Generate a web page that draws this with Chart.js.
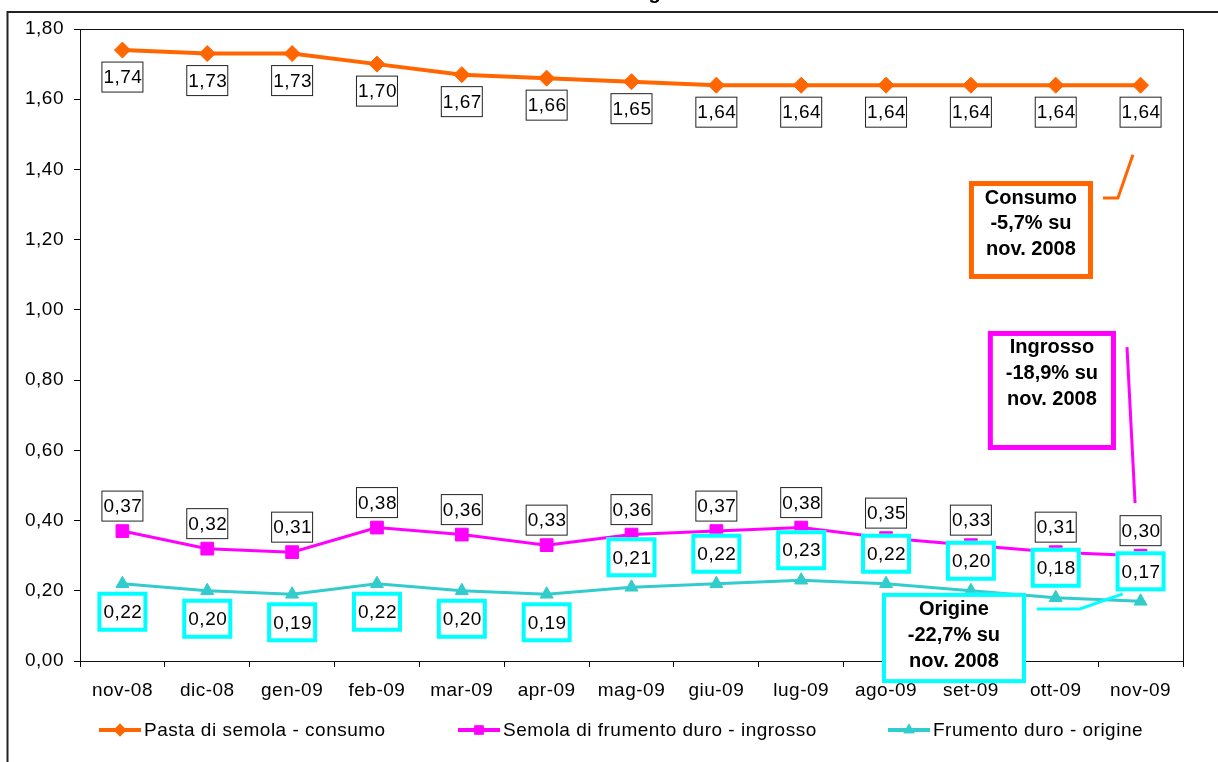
<!DOCTYPE html>
<html>
<head>
<meta charset="utf-8">
<script src="https://cdn.jsdelivr.net/npm/chart.js@4.4.1/dist/chart.umd.min.js"></script>
<style>
  html, body { margin: 0; padding: 0; background: #ffffff; }
  #wrap { width: 1218px; height: 762px; position: relative; }
</style>
</head>
<body>
<div id="wrap"><canvas id="chart"></canvas></div>
<script>
// Monthly prices, €/kg
const months = ['nov-08', 'dic-08', 'gen-09', 'feb-09', 'mar-09', 'apr-09', 'mag-09',
                'giu-09', 'lug-09', 'ago-09', 'set-09', 'ott-09', 'nov-09'];
const pastaConsumo = [1.74, 1.73, 1.73, 1.70, 1.67, 1.66, 1.65, 1.64, 1.64, 1.64, 1.64, 1.64, 1.64];
const semolaIngrosso = [0.37, 0.32, 0.31, 0.38, 0.36, 0.33, 0.36, 0.37, 0.38, 0.35, 0.33, 0.31, 0.30];
const frumentoOrigine = [0.22, 0.20, 0.19, 0.22, 0.20, 0.19, 0.21, 0.22, 0.23, 0.22, 0.20, 0.18, 0.17];
const seriesNames = ['Pasta di semola - consumo', 'Semola di frumento duro - ingrosso', 'Frumento duro - origine'];
const yMin = 0, yMax = 1.8, yStep = 0.2;
const noteTexts = [
  ['Consumo', '-5,7% su', 'nov. 2008'],
  ['Ingrosso', '-18,9% su', 'nov. 2008'],
  ['Origine', '-22,7% su', 'nov. 2008']
];

const FONT = '"Liberation Sans", Arial, sans-serif';
const TEXT_SIZE = 19;
const ORANGE = '#FF6600', MAGENTA = '#FF00FF', TEAL = '#33CCCC', CYAN = '#00FFFF';

const fmt = v => Number(v).toFixed(2).replace('.', ',');

// Callout boxes, placed in axis units (category index, value)
const notes = [
  { lines: noteTexts[0], color: ORANGE, bw: 5,
    box: [9.977, 1.367, 11.439, 1.088],
    leader: [[11.556, 1.319], [11.733, 1.319], [11.91, 1.442]] },
  { lines: noteTexts[1], color: MAGENTA, bw: 5,
    box: [10.20, 0.940, 11.71, 0.601],
    leader: [[11.84, 0.894], [11.935, 0.450]] },
  { lines: noteTexts[2], color: CYAN, bw: 4,
    box: [8.952, 0.194, 10.649, -0.063],
    leader: [[10.78, 0.148], [11.285, 0.148], [11.79, 0.191]] }
];

const framePlugin = {
  id: 'frame',
  beforeDraw(chart) {
    const ctx = chart.ctx;
    ctx.letterSpacing = '0.5px';
    ctx.save();
    ctx.fillStyle = '#ffffff';
    ctx.fillRect(0, 0, chart.width, chart.height);
    // outer chart border
    ctx.strokeStyle = '#222222';
    ctx.lineWidth = 2;
    ctx.strokeRect(7.5, 12, chart.width + 40, chart.height + 40);
    // title (sits above the visible frame)
    ctx.letterSpacing = '0px';
    ctx.fillStyle = '#000000';
    ctx.font = 'bold 20px ' + FONT;
    ctx.textAlign = 'center';
    ctx.textBaseline = 'alphabetic';
    ctx.fillText('Prezzi €/kg', 609, -1);
    ctx.restore();
  },
  beforeDatasetsDraw(chart) {
    const a = chart.chartArea, ctx = chart.ctx;
    ctx.save();
    ctx.strokeStyle = '#111111';
    ctx.lineWidth = 1;
    ctx.strokeRect(Math.round(a.left) + 0.5, Math.round(a.top) + 0.5,
                   Math.round(a.right - a.left), Math.round(a.bottom - a.top));
    ctx.restore();
  }
};

function labelBox(ctx, cx, cy, w, h, text, border, bw) {
  ctx.fillStyle = '#ffffff';
  ctx.fillRect(cx - w / 2, cy - h / 2, w, h);
  ctx.strokeStyle = border;
  ctx.lineWidth = bw;
  ctx.strokeRect(cx - w / 2 + bw / 2, cy - h / 2 + bw / 2, w - bw, h - bw);
  ctx.fillStyle = '#000000';
  ctx.textAlign = 'center';
  ctx.textBaseline = 'middle';
  ctx.fillText(text, cx + 0.5, cy + 1);
}

const valueLabelPlugin = {
  id: 'valueLabels',
  afterDatasetsDraw(chart) {
    const ctx = chart.ctx;
    ctx.save();
    ctx.font = TEXT_SIZE + 'px ' + FONT;
    // consumer price labels below the line
    chart.getDatasetMeta(0).data.forEach((pt, i) => {
      labelBox(ctx, pt.x, pt.y + 27, 42, 31, fmt(pastaConsumo[i]), '#222222', 1);
    });
    // wholesale labels above the line
    chart.getDatasetMeta(1).data.forEach((pt, i) => {
      labelBox(ctx, pt.x, pt.y - 25, 42, 31, fmt(semolaIngrosso[i]), '#222222', 1);
    });
    // farm-gate labels: below for the first half-year, above afterwards
    chart.getDatasetMeta(2).data.forEach((pt, i) => {
      const dy = i < 6 ? 28 : -30;
      labelBox(ctx, pt.x, pt.y + dy, 50, 40, fmt(frumentoOrigine[i]), CYAN, 4);
    });
    ctx.restore();
  }
};

const calloutPlugin = {
  id: 'callouts',
  afterDatasetsDraw(chart) {
    const ctx = chart.ctx, xs = chart.scales.x, ys = chart.scales.y;
    ctx.save();
    ctx.letterSpacing = '0px';
    notes.forEach(n => {
      const l = xs.getPixelForValue(n.box[0]), t = ys.getPixelForValue(n.box[1]);
      const r = xs.getPixelForValue(n.box[2]), b = ys.getPixelForValue(n.box[3]);
      ctx.fillStyle = '#ffffff';
      ctx.fillRect(l, t, r - l, b - t);
      ctx.strokeStyle = n.color;
      ctx.lineWidth = n.bw;
      ctx.strokeRect(l + n.bw / 2, t + n.bw / 2, r - l - n.bw, b - t - n.bw);
      ctx.fillStyle = '#000000';
      ctx.font = 'bold 20px ' + FONT;
      ctx.textAlign = 'center';
      ctx.textBaseline = 'middle';
      n.lines.forEach((s, k) => ctx.fillText(s, (l + r) / 2, t + 17 + k * 25.7));
      ctx.beginPath();
      n.leader.forEach((p, k) => {
        const x = xs.getPixelForValue(p[0]), y = ys.getPixelForValue(p[1]);
        if (k === 0) ctx.moveTo(x, y); else ctx.lineTo(x, y);
      });
      ctx.lineWidth = 3;
      ctx.lineJoin = 'miter';
      ctx.stroke();
    });
    ctx.restore();
  }
};

const legendPlugin = {
  id: 'bottomLegend',
  afterDraw(chart) {
    const ctx = chart.ctx;
    const startX = [99, 458, 888];
    const y = 730;
    ctx.save();
    ctx.font = TEXT_SIZE + 'px ' + FONT;
    ctx.textAlign = 'left';
    ctx.textBaseline = 'middle';
    chart.data.datasets.forEach((ds, i) => {
      const x0 = startX[i];
      ctx.strokeStyle = ds.borderColor;
      ctx.lineWidth = 4;
      ctx.beginPath();
      ctx.moveTo(x0, y);
      ctx.lineTo(x0 + 42, y);
      ctx.stroke();
      ctx.fillStyle = ds.backgroundColor;
      Chart.helpers.drawPoint(ctx, { pointStyle: ds.pointStyle, radius: 6.5, borderWidth: 0 }, x0 + 21, y);
      ctx.fill();
      ctx.fillStyle = '#000000';
      ctx.fillText(ds.label, x0 + 45, y + 1);
    });
    ctx.restore();
  }
};

new Chart(document.getElementById('chart'), {
  type: 'line',
  data: {
    labels: months,
    datasets: [
      { label: seriesNames[0], data: pastaConsumo, borderColor: ORANGE, backgroundColor: ORANGE,
        borderWidth: 4, pointStyle: 'rectRot', pointRadius: 8, pointBorderWidth: 1,
        pointBackgroundColor: ORANGE, pointBorderColor: ORANGE, tension: 0 },
      { label: seriesNames[1], data: semolaIngrosso, borderColor: MAGENTA, backgroundColor: MAGENTA,
        borderWidth: 3, pointStyle: 'rect', pointRadius: 9, pointBorderWidth: 1,
        pointBackgroundColor: MAGENTA, pointBorderColor: MAGENTA, tension: 0 },
      { label: seriesNames[2], data: frumentoOrigine, borderColor: TEAL, backgroundColor: TEAL,
        borderWidth: 3, pointStyle: 'triangle', pointRadius: 7.5, pointBorderWidth: 1,
        pointBackgroundColor: TEAL, pointBorderColor: TEAL, tension: 0 }
    ]
  },
  options: {
    responsive: true,
    maintainAspectRatio: false,
    animation: false,
    events: [],
    layout: { padding: { top: 29, left: 0, right: 35, bottom: 51 } },
    plugins: {
      legend: { display: false },
      title: { display: false },
      tooltip: { enabled: false }
    },
    scales: {
      x: {
        type: 'category',
        offset: true,
        grid: { offset: true, drawOnChartArea: false, color: '#000000', tickColor: '#000000', tickLength: 6 },
        border: { color: '#000000', width: 1 },
        ticks: { color: '#000000', font: { family: FONT, size: TEXT_SIZE }, padding: 12, maxRotation: 0, autoSkip: false },
        afterFit(s) { s.height = 50; }
      },
      y: {
        min: yMin, max: yMax,
        grid: { drawOnChartArea: false, color: '#000000', tickColor: '#000000', tickLength: 6 },
        border: { color: '#000000', width: 1 },
        ticks: { stepSize: yStep, color: '#000000', font: { family: FONT, size: TEXT_SIZE }, padding: 10,
                 callback: v => fmt(v) },
        afterFit(s) { s.width = 80; }
      }
    }
  },
  plugins: [framePlugin, valueLabelPlugin, calloutPlugin, legendPlugin]
});
</script>
</body>
</html>
